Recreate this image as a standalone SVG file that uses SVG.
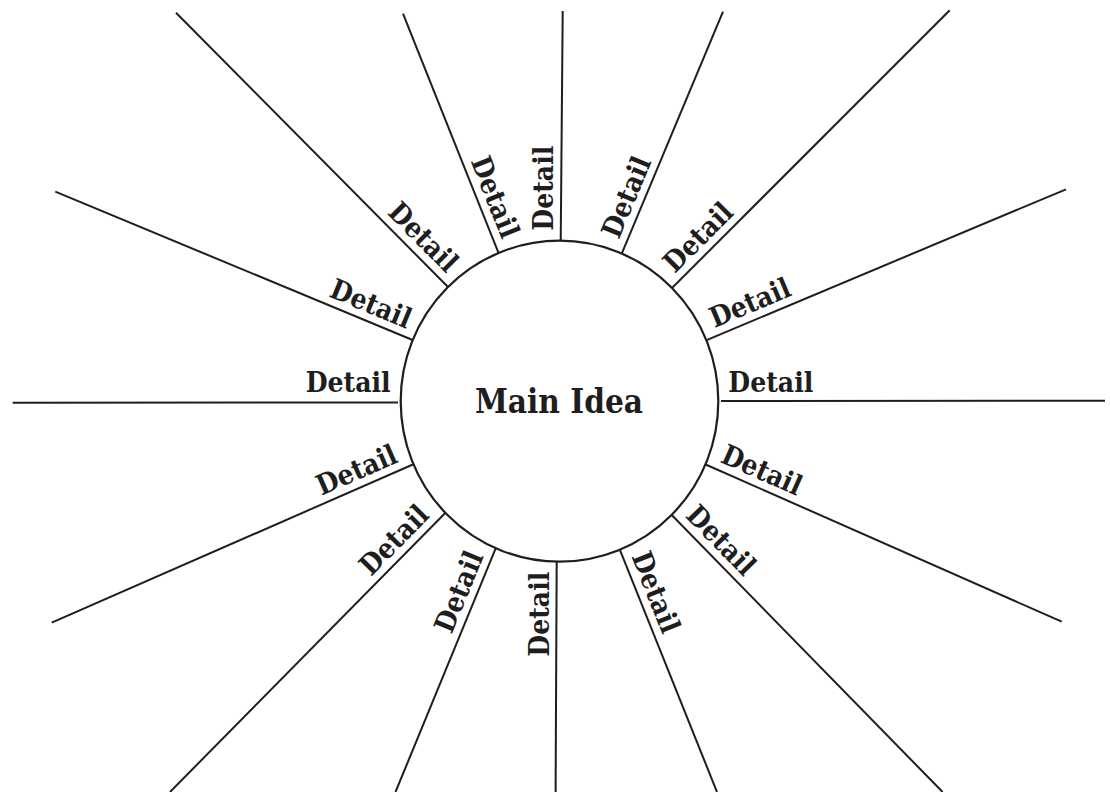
<svg xmlns="http://www.w3.org/2000/svg" width="1110" height="792" viewBox="0 0 1110 792">
<style>
.bg{fill:#ffffff}
.spoke{stroke:#1e1e1e;stroke-width:2;fill:none;stroke-linecap:butt}
.hub{fill:#ffffff;stroke:#1e1e1e;stroke-width:2.2}
.lbl{font-family:"DejaVu Serif Condensed","DejaVu Serif","Liberation Serif",serif;font-stretch:condensed;font-weight:bold;font-size:28px;fill:#1e1e1e}
.main{font-family:"DejaVu Serif Condensed","DejaVu Serif","Liberation Serif",serif;font-stretch:condensed;font-weight:bold;font-size:33px;fill:#1e1e1e}
</style>
<rect class="bg" x="0" y="0" width="1110" height="792"/>
<g id="connectors">
<line class="spoke" x1="398" y1="402.5" x2="12.7" y2="402.7"/>
<line class="spoke" x1="721" y1="401" x2="1105" y2="400.7"/>
<line class="spoke" x1="415" y1="341" x2="55.3" y2="191.7"/>
<line class="spoke" x1="706" y1="340.3" x2="1066" y2="189.3"/>
<line class="spoke" x1="449.5" y1="288.5" x2="176" y2="12.7"/>
<line class="spoke" x1="671.5" y1="288.5" x2="949.7" y2="10.3"/>
<line class="spoke" x1="499.2" y1="254.6" x2="403" y2="13.7"/>
<line class="spoke" x1="560.7" y1="243" x2="562.7" y2="11"/>
<line class="spoke" x1="621.3" y1="254.6" x2="723" y2="11.7"/>
<line class="spoke" x1="414" y1="464" x2="51.7" y2="622.7"/>
<line class="spoke" x1="445" y1="513.3" x2="170" y2="792"/>
<line class="spoke" x1="496" y1="547.7" x2="395.5" y2="792"/>
<line class="spoke" x1="556.7" y1="559" x2="555.6" y2="792"/>
<line class="spoke" x1="619" y1="547.7" x2="717" y2="792"/>
<line class="spoke" x1="670" y1="513.3" x2="942.6" y2="792"/>
<line class="spoke" x1="704.5" y1="464" x2="1061.7" y2="621.7"/>
</g>
<g id="main-idea">
<ellipse class="hub" cx="559.5" cy="401.2" rx="158.8" ry="160.5"/>
<text class="main" x="559" y="412.5" text-anchor="middle">Main Idea</text>
</g>
<g id="detail-1"><text class="lbl" transform="translate(390.7,402) rotate(0)" x="0" y="-10" text-anchor="end">Detail</text></g>
<g id="detail-2"><text class="lbl" transform="translate(728.3,401) rotate(0)" x="0" y="-9" text-anchor="start">Detail</text></g>
<g id="detail-3"><text class="lbl" transform="translate(403.5,336.2) rotate(22.5)" x="0" y="-8" text-anchor="end">Detail</text></g>
<g id="detail-4"><text class="lbl" transform="translate(717.5,335.4) rotate(-22.75)" x="0" y="-8" text-anchor="start">Detail</text></g>
<g id="detail-5"><text class="lbl" transform="translate(440.7,279.6) rotate(45.24)" x="0" y="-8" text-anchor="end">Detail</text></g>
<g id="detail-6"><text class="lbl" transform="translate(680.4,279.6) rotate(-45)" x="0" y="-8" text-anchor="start">Detail</text></g>
<g id="detail-7"><text class="lbl" transform="translate(494.6,243) rotate(68.23)" x="0" y="-8" text-anchor="end">Detail</text></g>
<g id="detail-8"><text class="lbl" transform="translate(560.8,230.7) rotate(-90)" x="0" y="-8" text-anchor="start">Detail</text></g>
<g id="detail-9"><text class="lbl" transform="translate(626.2,243.1) rotate(-67.29)" x="0" y="-8" text-anchor="start">Detail</text></g>
<g id="detail-10"><text class="lbl" transform="translate(402.5,469) rotate(-23.66)" x="0" y="-8" text-anchor="end">Detail</text></g>
<g id="detail-11"><text class="lbl" transform="translate(436.3,522.1) rotate(-45.39)" x="0" y="-8" text-anchor="end">Detail</text></g>
<g id="detail-12"><text class="lbl" transform="translate(491.2,559.2) rotate(-67.65)" x="0" y="-8" text-anchor="end">Detail</text></g>
<g id="detail-13"><text class="lbl" transform="translate(556.65,571.7) rotate(-90)" x="0" y="-8" text-anchor="end">Detail</text></g>
<g id="detail-14"><text class="lbl" transform="translate(623.7,559.3) rotate(68.16)" x="0" y="-8" text-anchor="start">Detail</text></g>
<g id="detail-15"><text class="lbl" transform="translate(678.7,522.1) rotate(45.64)" x="0" y="-8" text-anchor="start">Detail</text></g>
<g id="detail-16"><text class="lbl" transform="translate(715.9,469) rotate(23.82)" x="0" y="-8" text-anchor="start">Detail</text></g>
</svg>
